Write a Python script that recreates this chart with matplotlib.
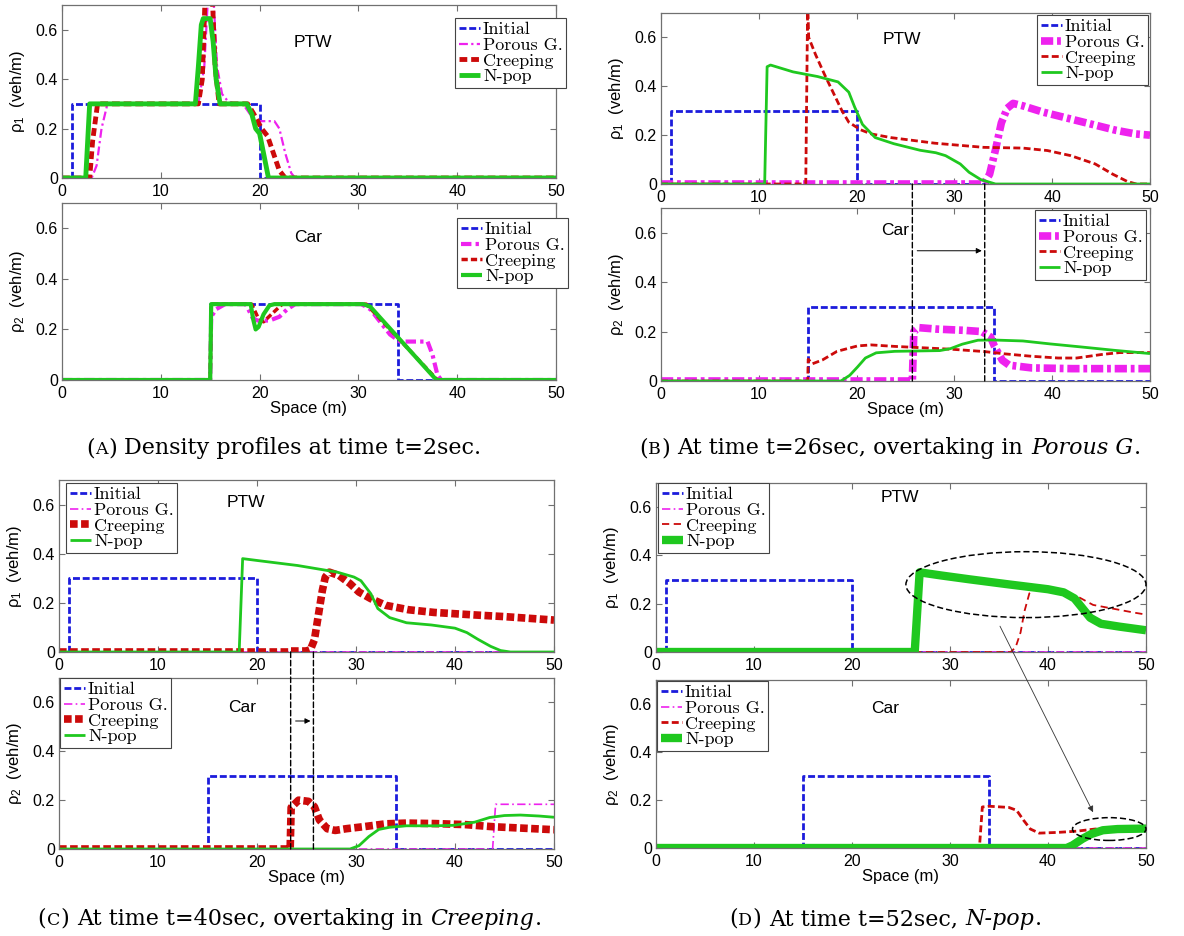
import matplotlib
matplotlib.use("Agg")
import matplotlib.pyplot as plt
from matplotlib.patches import Ellipse, ConnectionPatch

# ---------------------------------------------------------------- data
SPACE_TICKS = [0, 10, 20, 30, 40, 50]
DENSITY_TICKS = [0, 0.2, 0.4, 0.6]
DENSITY_TICK_LABELS = ["0", "0.2", "0.4", "0.6"]
SERIES_NAMES = ["Initial", "Porous G.", "Creeping", "N-pop"]

# initial conditions (same in every snapshot)
init_ptw_x = [0, 1, 1, 20, 20, 50]
init_ptw_y = [0, 0, 0.3, 0.3, 0, 0]
init_car_x = [0, 15, 15, 34, 34, 50]
init_car_y = [0, 0, 0.3, 0.3, 0, 0]
empty_x = [0, 50]
empty_y = [0, 0]

# (A) t = 2 s
a_ptw_porous_x = [0, 3.0, 3.5, 4.0, 4.6, 13.8, 14.4, 14.8, 15.3, 15.7, 16.2, 16.8, 17.5, 18.3,
                  19.0, 19.7, 21.5, 22.0, 22.6, 23.2, 23.6, 50]
a_ptw_porous_y = [0, 0, 0.05, 0.2, 0.3, 0.3, 0.45, 0.75, 0.75, 0.45, 0.34, 0.31, 0.3, 0.3,
                  0.26, 0.23, 0.23, 0.2, 0.1, 0.02, 0, 0]
a_ptw_creep_x = [0, 2.8, 3.1, 3.6, 13.8, 14.2, 14.5, 15.2, 15.5, 15.9, 18.8, 19.4, 20.2, 20.8,
                 21.4, 22.0, 22.6, 50]
a_ptw_creep_y = [0, 0, 0.15, 0.3, 0.3, 0.4, 0.75, 0.75, 0.45, 0.3, 0.3, 0.26, 0.2, 0.17,
                 0.1, 0.03, 0, 0]
a_ptw_npop_x = [0, 2.4, 2.8, 13.5, 13.8, 14.1, 14.3, 15.0, 15.3, 15.6, 16.0, 18.7, 19.2, 19.6,
                20.0, 20.4, 20.9, 50]
a_ptw_npop_y = [0, 0, 0.3, 0.3, 0.45, 0.62, 0.645, 0.645, 0.55, 0.4, 0.3, 0.3, 0.26, 0.2,
                0.18, 0.1, 0, 0]
a_car_porous_x = [0, 15.0, 15.1, 15.6, 16.5, 18.6, 19.3, 19.8, 21.0, 22.0, 22.8, 23.6, 30.3,
                  31.2, 32.2, 33.2, 34.2, 37.0, 37.5, 38.0, 38.4, 50]
a_car_porous_y = [0, 0, 0.25, 0.28, 0.3, 0.3, 0.245, 0.235, 0.235, 0.25, 0.28, 0.3, 0.3,
                  0.28, 0.23, 0.18, 0.152, 0.152, 0.1, 0.02, 0, 0]
a_car_creep_x = [0, 15.0, 15.1, 19.2, 19.8, 20.4, 21.2, 22.3, 30.8, 38.0, 50]
a_car_creep_y = [0, 0, 0.3, 0.3, 0.25, 0.23, 0.26, 0.3, 0.3, 0, 0]
a_car_npop_x = [0, 15.0, 15.1, 19.1, 19.35, 19.6, 19.9, 20.4, 21.0, 21.5, 30.5, 31.2, 37.9, 50]
a_car_npop_y = [0, 0, 0.3, 0.3, 0.24, 0.2, 0.21, 0.26, 0.295, 0.3, 0.3, 0.29, 0, 0]

# (B) t = 26 s
b_ptw_porous_x = [0, 33.0, 33.6, 34.2, 34.8, 35.4, 36.0, 37.0, 39.0, 41.0, 43.5, 46.5, 48.5, 50]
b_ptw_porous_y = [0, 0, 0.04, 0.14, 0.25, 0.31, 0.33, 0.32, 0.295, 0.275, 0.25, 0.22, 0.205, 0.2]
b_ptw_creep_x = [0, 14.8, 15.0, 15.1, 15.8, 16.7, 17.3, 18.5, 19.2, 20.4, 21.5, 23.5, 28.0, 33.0,
                 37.0, 39.5, 41.9, 44.4, 46.2, 47.7, 48.6, 50]
b_ptw_creep_y = [0, 0, 0.75, 0.6, 0.53, 0.45, 0.4, 0.3, 0.253, 0.222, 0.205, 0.19, 0.167, 0.15,
                 0.147, 0.137, 0.116, 0.082, 0.04, 0.01, 0, 0]
b_ptw_npop_x = [0, 10.6, 10.85, 11.2, 13.5, 16.0, 18.1, 19.2, 19.8, 20.6, 21.9, 23.8, 26.5, 28.1,
                29.1, 30.6, 31.5, 32.7, 34.2, 50]
b_ptw_npop_y = [0, 0, 0.48, 0.487, 0.459, 0.44, 0.418, 0.376, 0.315, 0.244, 0.19, 0.165, 0.138,
                0.128, 0.116, 0.082, 0.048, 0.018, 0, 0]
b_car_porous_x = [0, 25.7, 25.85, 26.3, 28.2, 31.0, 32.8, 33.7, 34.1, 34.9, 35.6, 37.9, 42.0, 46.0, 50]
b_car_porous_y = [0, 0, 0.2, 0.216, 0.21, 0.205, 0.2, 0.178, 0.14, 0.084, 0.064, 0.053, 0.05, 0.05, 0.05]
b_car_creep_x = [0, 15.0, 15.05, 15.5, 16.5, 18.0, 20.1, 21.5, 23.9, 27.0, 29.9, 33.1, 35.1, 37.9,
                 40.6, 42.5, 45.0, 46.9, 50]
b_car_creep_y = [0, 0, 0.088, 0.07, 0.085, 0.12, 0.142, 0.146, 0.14, 0.134, 0.128, 0.119, 0.11, 0.1,
                 0.093, 0.093, 0.107, 0.115, 0.115]
b_car_npop_x = [0, 18.4, 19.3, 20.1, 20.9, 22.0, 23.9, 28.5, 29.6, 30.8, 32.4, 33.9, 37.0, 39.8,
                42.9, 46.4, 50]
b_car_npop_y = [0, 0, 0.023, 0.057, 0.093, 0.114, 0.12, 0.123, 0.131, 0.149, 0.165, 0.166, 0.162,
                0.15, 0.138, 0.124, 0.111]

# (C) t = 40 s
c_ptw_creep_x = [0, 23.2, 23.25, 25.0, 25.4, 25.8, 26.2, 26.6, 26.9, 27.3, 28.3, 29.4, 30.3, 31.5,
                 33.0, 35.3, 37.9, 41.9, 45.0, 50]
c_ptw_creep_y = [0, 0, 0.004, 0.004, 0.01, 0.05, 0.15, 0.25, 0.305, 0.325, 0.311, 0.278, 0.244,
                 0.217, 0.19, 0.172, 0.161, 0.151, 0.144, 0.13]
c_ptw_npop_x = [0, 18.2, 18.55, 20.1, 24.1, 28.1, 29.8, 30.5, 31.5, 32.2, 33.4, 35.1, 37.6, 40.0,
                41.2, 42.3, 43.6, 44.6, 45.6, 50]
c_ptw_npop_y = [0, 0, 0.38, 0.372, 0.352, 0.325, 0.305, 0.29, 0.237, 0.177, 0.14, 0.119, 0.11,
                0.097, 0.079, 0.052, 0.023, 0.006, 0, 0]
c_car_porous_x = [0, 43.8, 44.1, 50]
c_car_porous_y = [0, 0, 0.183, 0.183]
c_car_creep_x = [0, 23.35, 23.45, 24.2, 25.2, 25.8, 26.3, 27.1, 27.9, 29.0, 30.9, 33.0, 35.1, 38.0,
                 41.0, 43.9, 47.0, 50]
c_car_creep_y = [0, 0, 0.17, 0.2, 0.195, 0.173, 0.119, 0.083, 0.076, 0.083, 0.092, 0.103, 0.106,
                 0.104, 0.1, 0.091, 0.085, 0.079]
c_car_npop_x = [0, 29.4, 30.3, 31.3, 32.3, 33.4, 35.1, 38.0, 39.9, 42.0, 43.5, 45.0, 46.6, 48.5, 50]
c_car_npop_y = [0, 0, 0.0135, 0.051, 0.08, 0.089, 0.095, 0.095, 0.097, 0.11, 0.129, 0.137, 0.139,
                0.135, 0.13]

# (D) t = 52 s
d_ptw_creep_x = [0, 36.2, 36.7, 37.2, 37.6, 38.1, 38.6, 40.0, 41.6, 43.1, 44.6, 46.7, 48.8, 50]
d_ptw_creep_y = [0, 0, 0.02, 0.081, 0.169, 0.243, 0.258, 0.26, 0.247, 0.228, 0.195, 0.179, 0.163, 0.155]
d_ptw_npop_x = [0, 26.4, 26.9, 29.1, 32.0, 36.0, 40.0, 41.6, 42.7, 43.5, 44.3, 45.4, 47.3, 50]
d_ptw_npop_y = [0, 0, 0.33, 0.317, 0.301, 0.28, 0.26, 0.247, 0.222, 0.182, 0.142, 0.117, 0.105, 0.09]
d_car_creep_x = [0, 33.0, 33.3, 34.0, 36.0, 36.8, 37.5, 38.2, 39.1, 41.0, 42.9, 44.8, 47.0, 50]
d_car_creep_y = [0, 0, 0.171, 0.174, 0.169, 0.157, 0.116, 0.079, 0.062, 0.065, 0.07, 0.079, 0.082, 0.083]
d_car_npop_x = [0, 41.9, 42.5, 43.5, 44.4, 45.6, 47.1, 50]
d_car_npop_y = [0, 0, 0.011, 0.038, 0.058, 0.074, 0.079, 0.081]

CAPTIONS = [
    [("(", "rm"), ("A", "sc"), (")", "rm"), (" ", "gap"), ("Density profiles at time t=2sec.", "rm")],
    [("(", "rm"), ("B", "sc"), (")", "rm"), (" ", "gap"), ("At time t=26sec, overtaking in", "rm"),
     (" ", "gap"), ("Porous G", "it"), (".", "rm")],
    [("(", "rm"), ("C", "sc"), (")", "rm"), (" ", "gap"), ("At time t=40sec, overtaking in", "rm"),
     (" ", "gap"), ("Creeping", "it"), (".", "rm")],
    [("(", "rm"), ("D", "sc"), (")", "rm"), (" ", "gap"), ("At time t=52sec,", "rm"),
     (" ", "gap"), ("N-pop", "it"), (".", "rm")],
]

# ---------------------------------------------------------------- style
plt.rcParams["font.family"] = ["Liberation Sans", "DejaVu Sans"]
plt.rcParams["mathtext.fontset"] = "custom"
plt.rcParams["mathtext.rm"] = "Liberation Sans"
plt.rcParams["mathtext.it"] = "Liberation Sans:italic"

C_INIT = "#1c1cdc"
C_POR = "#ee22ee"
C_CRP = "#cc0a0a"
C_NPOP = "#1fc81f"
SPINE = "#707070"

W, H = 1184, 936
fig = plt.figure(figsize=(W / 100, H / 100), dpi=100)


def add_axes_px(left, right, top, bottom):
    return fig.add_axes([left / W, 1 - bottom / H, (right - left) / W, (bottom - top) / H])


def style_axes(ax, ylabel, xlabel=None):
    ax.set_xlim(0, 50)
    ax.set_ylim(0, 0.7)
    ax.set_xticks(SPACE_TICKS)
    ax.set_yticks(DENSITY_TICKS)
    ax.set_yticklabels(DENSITY_TICK_LABELS)
    ax.tick_params(direction="in", top=True, right=True, length=4, width=0.8,
                   color=SPINE, labelsize=11.5)
    ax.tick_params(axis="x", pad=4)
    ax.tick_params(axis="y", pad=3)
    for s in ax.spines.values():
        s.set_color(SPINE)
        s.set_linewidth(0.9)
    ax.set_ylabel(ylabel, fontsize=12, labelpad=6)
    if xlabel:
        ax.set_xlabel(xlabel, fontsize=12, labelpad=0)


def draw_series(ax, series, styles):
    handles = []
    for (x, y), (color, lw, ls) in zip(series, styles):
        (h,) = ax.plot(x, y, color=color, lw=lw, linestyle=ls,
                       solid_capstyle="butt", dash_capstyle="butt")
        handles.append(h)
    return handles


def add_legend(ax, handles, left_px, top_px):
    leg = ax.legend(handles, SERIES_NAMES, loc="upper left",
                    bbox_to_anchor=(left_px / W, 1 - top_px / H),
                    bbox_transform=fig.transFigure, borderaxespad=0,
                    prop=dict(family="cmr10", size=13), handlelength=1.2,
                    handletextpad=0.15, labelspacing=0.0, borderpad=0.2,
                    fancybox=False, framealpha=1, edgecolor="#444444")
    leg.get_frame().set_linewidth(0.8)
    return leg


DASH_INIT = (0, (2.5, 1.0))

panels = [
    dict(  # (A)
        box=(62, 556, (5, 178), (203, 380)),
        ptw=[(init_ptw_x, init_ptw_y), (a_ptw_porous_x, a_ptw_porous_y),
             (a_ptw_creep_x, a_ptw_creep_y), (a_ptw_npop_x, a_ptw_npop_y)],
        car=[(init_car_x, init_car_y), (a_car_porous_x, a_car_porous_y),
             (a_car_creep_x, a_car_creep_y), (a_car_npop_x, a_car_npop_y)],
        ptw_style=[(C_INIT, 2.0, DASH_INIT), (C_POR, 1.6, (0, (4, 1.5, 1, 1.5))),
                   (C_CRP, 3.5, (0, (1.6, 0.8))), (C_NPOP, 3.5, "-")],
        car_style=[(C_INIT, 2.0, DASH_INIT), (C_POR, 3.0, (0, (2.5, 1, 0.8, 1))),
                   (C_CRP, 2.5, (0, (1.8, 0.9))), (C_NPOP, 3.0, "-")],
        legends=((455, 18), (457, 218)),
        labels=((25.4, 0.55), (24.9, 0.565)),
    ),
    dict(  # (B)
        box=(661, 1150, (13, 184), (208, 381)),
        ptw=[(init_ptw_x, init_ptw_y), (b_ptw_porous_x, b_ptw_porous_y),
             (b_ptw_creep_x, b_ptw_creep_y), (b_ptw_npop_x, b_ptw_npop_y)],
        car=[(init_car_x, init_car_y), (b_car_porous_x, b_car_porous_y),
             (b_car_creep_x, b_car_creep_y), (b_car_npop_x, b_car_npop_y)],
        ptw_style=[(C_INIT, 2.0, DASH_INIT), (C_POR, 5.5, (0, (1.6, 0.5, 0.5, 0.5))),
                   (C_CRP, 2.0, (0, (2.5, 1.2))), (C_NPOP, 2.0, "-")],
        car_style=[(C_INIT, 2.0, DASH_INIT), (C_POR, 5.5, (0, (1.6, 0.5, 0.5, 0.5))),
                   (C_CRP, 2.0, (0, (2.5, 1.2))), (C_NPOP, 2.0, "-")],
        legends=((1037, 15), (1035, 210)),
        labels=((24.6, 0.59), (23.9, 0.61)),
    ),
    dict(  # (C)
        box=(59, 554, (480, 652), (678, 849)),
        ptw=[(init_ptw_x, init_ptw_y), (empty_x, empty_y),
             (c_ptw_creep_x, c_ptw_creep_y), (c_ptw_npop_x, c_ptw_npop_y)],
        car=[(init_car_x, init_car_y), (c_car_porous_x, c_car_porous_y),
             (c_car_creep_x, c_car_creep_y), (c_car_npop_x, c_car_npop_y)],
        ptw_style=[(C_INIT, 2.0, DASH_INIT), (C_POR, 1.2, (0, (5, 2, 1, 2))),
                   (C_CRP, 5.5, (0, (1.0, 0.45))), (C_NPOP, 2.0, "-")],
        car_style=[(C_INIT, 2.0, DASH_INIT), (C_POR, 1.2, (0, (5, 2, 1, 2))),
                   (C_CRP, 5.5, (0, (1.0, 0.45))), (C_NPOP, 2.0, "-")],
        legends=((66, 483), (60, 678)),
        labels=((18.9, 0.61), (18.5, 0.58)),
    ),
    dict(  # (D)
        box=(656, 1146, (483, 652), (680, 848)),
        ptw=[(init_ptw_x, init_ptw_y), (empty_x, empty_y),
             (d_ptw_creep_x, d_ptw_creep_y), (d_ptw_npop_x, d_ptw_npop_y)],
        car=[(init_car_x, init_car_y), (empty_x, empty_y),
             (d_car_creep_x, d_car_creep_y), (d_car_npop_x, d_car_npop_y)],
        ptw_style=[(C_INIT, 2.0, DASH_INIT), (C_POR, 1.2, (0, (5, 2, 1, 2))),
                   (C_CRP, 1.3, (0, (4, 2.5))), (C_NPOP, 6.0, "-")],
        car_style=[(C_INIT, 2.0, DASH_INIT), (C_POR, 1.2, (0, (5, 2, 1, 2))),
                   (C_CRP, 2.0, (0, (2.5, 1.2))), (C_NPOP, 6.0, "-")],
        legends=((658, 483), (657, 681)),
        labels=((24.9, 0.64), (23.4, 0.58)),
    ),
]

axes = []
for p in panels:
    left, right, (t1, b1), (t2, b2) = p["box"]
    ax_p = add_axes_px(left, right, t1, b1)
    ax_c = add_axes_px(left, right, t2, b2)
    style_axes(ax_p, "ρ$_1$  (veh/m)")
    style_axes(ax_c, "ρ$_2$  (veh/m)", "Space (m)")
    hp = draw_series(ax_p, p["ptw"], p["ptw_style"])
    hc = draw_series(ax_c, p["car"], p["car_style"])
    add_legend(ax_p, hp, *p["legends"][0])
    add_legend(ax_c, hc, *p["legends"][1])
    ax_p.text(*p["labels"][0], "PTW", ha="center", va="center", fontsize=12.5)
    ax_c.text(*p["labels"][1], "Car", ha="center", va="center", fontsize=12.5)
    axes.append((ax_p, ax_c))

# overtaking markers: vertical guides spanning the car panel, with a shift arrow
for (ax_p, ax_c), xs, y_arrow in [(axes[1], (25.7, 33.1), 0.527), (axes[2], (23.4, 25.7), 0.524)]:
    for xv in xs:
        cp = ConnectionPatch(xyA=(xv, 0), coordsA=ax_p.transData, xyB=(xv, 0),
                             coordsB=ax_c.transData, color="k", lw=1.0,
                             linestyle=(0, (4, 2)))
        fig.add_artist(cp)
    ax_c.annotate("", xy=(xs[1] - 0.3, y_arrow), xytext=(xs[0] + 0.5, y_arrow),
                  arrowprops=dict(arrowstyle="-|>", color="k", lw=0.7,
                                  mutation_scale=8, shrinkA=0, shrinkB=0))

# (D): highlighted regions and link between them
ax_p, ax_c = axes[3]
ax_p.add_patch(Ellipse((37.75, 0.279), 24.5, 0.273, fill=False, ec="k", lw=1.1,
                       linestyle=(0, (4, 2)), clip_on=False, zorder=5))
ax_c.add_patch(Ellipse((46.25, 0.079), 7.5, 0.095, fill=False, ec="k", lw=1.1,
                       linestyle=(0, (4, 2)), clip_on=False, zorder=5))
link = ConnectionPatch(xyA=(35.1, 0.107), coordsA=ax_p.transData, xyB=(44.6, 0.149),
                       coordsB=ax_c.transData, color="#333333", lw=0.6,
                       arrowstyle="-|>", mutation_scale=9, shrinkA=0, shrinkB=0)
fig.add_artist(link)

# ---------------------------------------------------------------- captions
CAP_FONT = "DejaVu Serif"
CAP_SIZE = 16
renderer = fig.canvas.get_renderer()


def text_width(s, **kw):
    t = fig.text(0, 0, s, **kw)
    w = t.get_window_extent(renderer).width
    t.remove()
    return w


rm_kw = dict(family=CAP_FONT, size=CAP_SIZE)
sc_kw = dict(family=CAP_FONT, size=CAP_SIZE * 0.78)
it_kw = dict(family=CAP_FONT, size=CAP_SIZE, style="italic")
space_w = text_width("a a", **rm_kw) - text_width("aa", **rm_kw)


def caption(xc, baseline, parts):
    placed = []
    pos = 0.0
    for s, kind in parts:
        if kind == "gap":
            pos += space_w
            continue
        kw = {"rm": rm_kw, "sc": sc_kw, "it": it_kw}[kind]
        t = fig.text(0, 1 - baseline / H, s, va="baseline", ha="left", **kw)
        placed.append((t, pos))
        pos += t.get_window_extent(renderer).width + 0.5
    x0 = xc - pos / 2
    for t, off in placed:
        t.set_x((x0 + off) / W)


caption(284, 454, CAPTIONS[0])
caption(890, 454, CAPTIONS[1])
caption(290, 925, CAPTIONS[2])
caption(886, 925, CAPTIONS[3])

fig.savefig("out.png", dpi=100)
